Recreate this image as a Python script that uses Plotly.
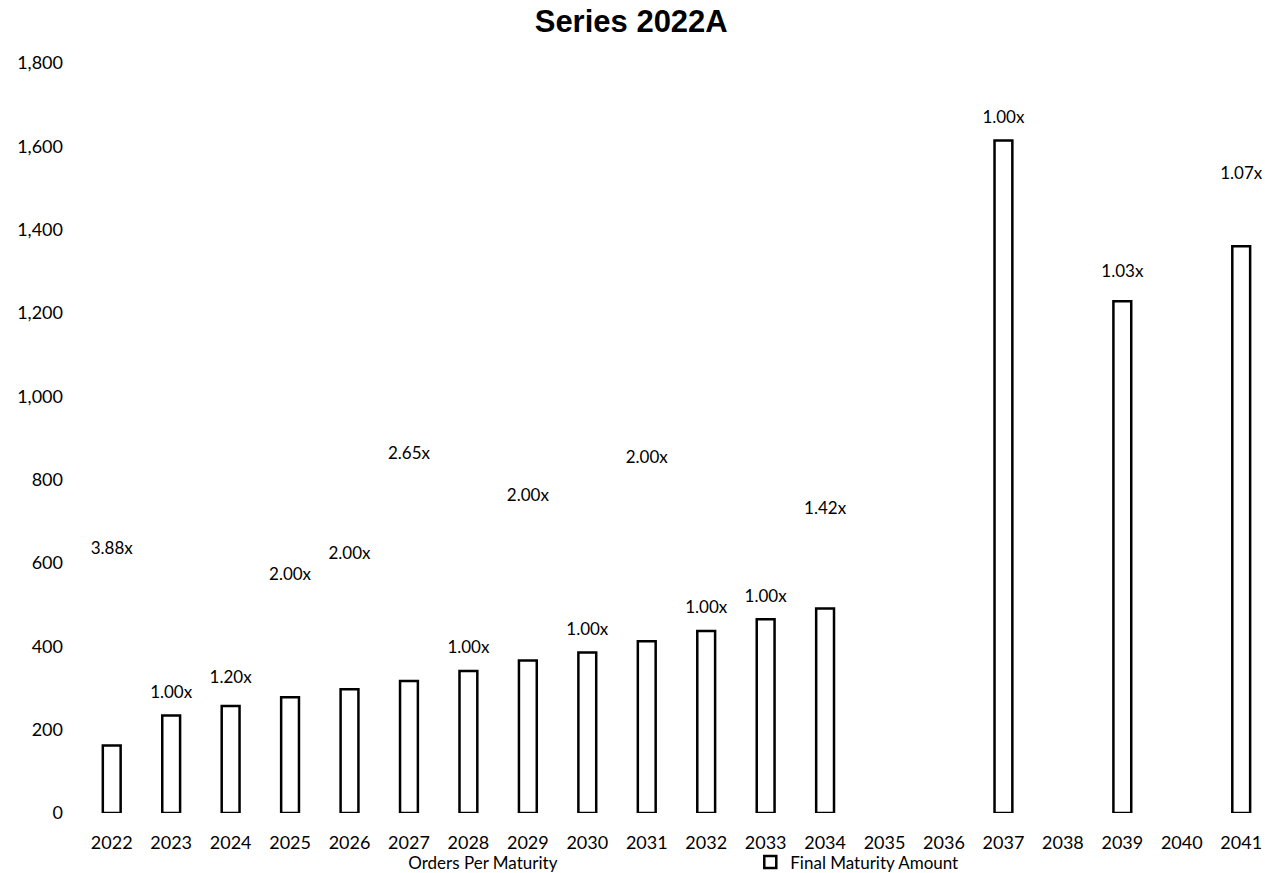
import plotly.graph_objects as go

# Maturity years on the category axis
years = [str(y) for y in range(2022, 2042)]

# Final maturity amount per year (None = no maturity that year)
final_amount = [162, 234, 257, 278, 297, 317, 341, 366, 385, 412, 437, 465, 491,
                None, None, 1614, None, 1228, None, 1360]

# Orders per maturity (invisible series carrying the coverage labels)
orders = [580, 234, 270, 516, 568, 808, 341, 706, 385, 798, 437, 465, 674,
          None, None, 1614, None, 1244, None, 1478]

coverage = ["3.88x", "1.00x", "1.20x", "2.00x", "2.00x", "2.65x", "1.00x", "2.00x",
            "1.00x", "2.00x", "1.00x", "1.00x", "1.42x", "", "", "1.00x", "",
            "1.03x", "", "1.07x"]

y_ticks = list(range(0, 1801, 200))

FONT = "Lato"

fig = go.Figure()

# Invisible markers; their data labels sit above each point
fig.add_trace(go.Scatter(
    x=years, y=orders, name="Orders Per Maturity",
    mode="markers+text", text=coverage, textposition="top center",
    marker=dict(size=20, opacity=0, color="#ffffff"),
    textfont=dict(family=FONT, size=17, color="#000000"),
    hoverinfo="skip",
))

fig.add_trace(go.Bar(
    x=years, y=final_amount, name="Final Maturity Amount",
    width=0.3,
    marker=dict(color="#ffffff", line=dict(color="#000000", width=2.5)),
))

fig.update_layout(
    width=1265, height=873, autosize=False,
    margin=dict(l=82, r=0, t=63, b=60, autoexpand=False),
    paper_bgcolor="#ffffff", plot_bgcolor="#ffffff",
    font=dict(family=FONT, size=18, color="#000000"),
    title=dict(
        text="<b>Series 2022A</b>",
        font=dict(family="Liberation Sans", size=31, color="#000000"),
        xref="container", x=0.499, xanchor="center",
        yref="container", y=1 - 21 / 873, yanchor="middle",
    ),
    showlegend=True,
    legend=dict(
        orientation="h", x=0.242, xanchor="left",
        y=-0.066, yanchor="middle",
        font=dict(family=FONT, size=17, color="#000000"),
        entrywidth=337, entrywidthmode="pixels",
        bgcolor="rgba(0,0,0,0)",
    ),
    xaxis=dict(
        type="category", range=[-0.5, 19.4],
        showgrid=False, showline=False, zeroline=False,
        ticks="", ticklabelstandoff=17, automargin=False,
        tickfont=dict(family=FONT, size=18, color="#000000"),
    ),
    yaxis=dict(
        range=[0, 1800], tickvals=y_ticks, tickformat=",",
        showgrid=False, showline=False, zeroline=False,
        ticks="", ticklabelstandoff=18, automargin=False,
        tickfont=dict(family=FONT, size=18, color="#000000"),
    ),
)

fig.write_html("out.html")
